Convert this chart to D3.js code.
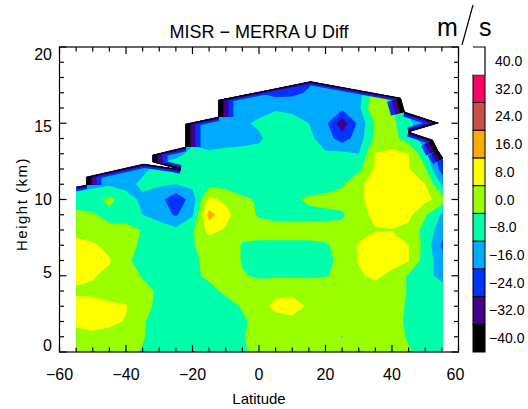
<!DOCTYPE html>
<html><head><meta charset="utf-8">
<script src="https://cdn.jsdelivr.net/npm/d3@7"></script>
<style>body{margin:0;background:#fff}svg{display:block}text{font-family:"Liberation Sans",Arial,sans-serif;fill:#000}</style>
</head><body><svg id="c" width="528" height="409"></svg>
<script>
// ---- data ----
const lats = [-55,-50,-45,-40,-35,-30,-25,-20,-15,-10,-5,0,5,10,15,20,25,30,35,40,45,50,55];
const heights = [0,1,2,3,4,5,6,7,8,9,10,11,12,13,14,15,16,17,18];
// U difference (m/s), one row per height, one value per latitude
const uDiff = [
 [4,4,3,2,-0.5,-3,-4,-4,-3,-3,-1,2,3,3,3,3,2,3,3,2,0.5,-2,-3],
 [5,6,5,3,0.5,-3,-5,-5,-4,-3,-0.5,3,4,4,3,2,-0.2,3,4,2,-0.5,-3,-3],
 [10,11,10,7.5,0.5,-2,-4,-5,-4,-3,-1,2,5,6,5,3,2,3,4,2,-1,-3,-3],
 [9,9.5,9,8.5,2,-1.5,-3,-4,-3,-2,0.5,5,10,11,7,4,3,4,4,3,-1,-3,-4],
 [7.5,7,6,4,2,-1,-3,-2,-1.5,1,3,4,6,6,5,4,4,5,5,3,-0.5,-3,-5],
 [9,8.5,6.5,3,-0.5,-3,-3,-1,1,3,0.5,-1,-1,-1,-1,-0.5,2,7,9.5,6,-1,-6,-10],
 [11,10.5,8.6,1,-2,-3,-4,-1.5,2,4,-0.5,-1.5,-2,-2,-2,-1,1,8.5,11,11,8.5,-4,-12],
 [10,9,6,2,-1,-4,-5,-0.5,3,4,-0.5,-1,-1,-1,-1,-0.5,1.5,9,12,11,8,-3,-17],
 [6,4,2,2,-0.3,-3,-6,-1,11,7,2,2,2,2,2,2,2,4,7.5,7.8,6,-3,-12],
 [2,0.5,-2,-3,-8,-12,-17,-9,19,11,2,-0.5,-1.5,-1.5,-1.5,-1.5,-1,5,10,11,10,1,-9],
 [-4,-3,2,-4,-10,-13,-22,-12,10,6,1,-0.5,-1,-1,1,2,3,7,10,11,11,10,5],
 [-12,-10,-9,-11,-6,-7,-8,-6,-2,-3,-3,-3,-3,-3,-3,-3,-1,7,10,10,10,8,-9],
 [-14,-14,-14,-12,-10,-5,-4,-4,-4,-5,-7,-5,-4,-4,-4,-5,-3,-2,9,10,8.5,1,-20],
 [-14,-14,-14,-14,-12,-12,-10,-6,-7,-6,-6,-6,-5,-4,-5,-7,-6,-8,8.5,10,8,-6,-22],
 [-14,-14,-14,-14,-14,-14,-12,-10,-11,-11,-10,-9,-5,-4,-6,-12,-20,-12,2,3,-4,-12,-24],
 [-14,-14,-14,-14,-14,-14,-14,-13,-12,-10,-9,-7,-4,-5,-8,-14,-29,-14,1,2,-6,-14,-24],
 [-14,-14,-14,-14,-14,-14,-14,-14,-14,-12,-12,-10,-9,-10,-12,-12,-14,-10,8.5,2,-10,-16,-24],
 [-14,-14,-14,-14,-14,-14,-14,-14,-14,-14,-14,-16,-19,-18,-15,-13,-12,-11,4,-8,-14,-16,-24],
 [-14,-14,-14,-14,-14,-14,-14,-14,-14,-14,-14,-18,-20,-20,-18,-14,-14,-14,-10,-14,-14,-16,-24]
];
// top edge of the data coverage (latitude, height km)
const edgeLat =    [-55,-51.9,-51.9,-34.7,-23.6,-32.0,-32.0,-22.1,-22.1,-12.2,-12.2,15.5,42.6,43.8,54.0,45.0,52.2,53.7,55.3];
const edgeHeight = [10.82,10.95,11.48,12.33,11.97,12.46,12.92,13.44,14.95,15.41,16.52,17.74,16.66,15.74,15.02,14.43,13.90,13.25,12.72];
const levels = [-40,-32,-24,-16,-8,0,8,16,24,32,40];
const levelColors = ["#000000","#440088","#0033ff","#00aaff","#00ffaa","#99ff00","#ffff00","#ffaa00","#c8504b","#ff0066","#ffffff"];
const levelLabels = ["−40.0","−32.0","−24.0","−16.0","−8.0","0.0","8.0","16.0","24.0","32.0","40.0"];
const xTicks = [-60,-40,-20,0,20,40,60];
const xTickLabels = ["−60","−40","−20","0","20","40","60"];
const yTicks = [0,5,10,15,20];

// ---- layout ----
const svg = d3.select("#c");
const x = d3.scaleLinear().domain([-60,60]).range([59.5,458.5]);
const y = d3.scaleLinear().domain([0,20]).range([352,47]);
const yLab = d3.scaleLinear().domain([0,20]).range([345,53.5]); // label centres

// clip polygon from edge
const poly = edgeLat.map((d,i)=>[x(d),y(edgeHeight[i])]);
poly.push([x(edgeLat[edgeLat.length-1]),y(0)],[x(edgeLat[0]),y(0)]);
const defs = svg.append("defs");
defs.append("clipPath").attr("id","dc").append("path").attr("d","M"+poly.join("L")+"Z");

// filled contours
const nx = lats.length, ny = heights.length;
const dLat = lats[1]-lats[0], dH = heights[1]-heights[0];
const contours = d3.contours().size([nx,ny]).thresholds(levels)(uDiff.flat());
const proj = d3.geoTransform({point(px,py){
  this.stream.point(x(lats[0]+(px-0.5)*dLat), y(heights[0]+(py-0.5)*dH));
}});
const gp = d3.geoPath(proj);
const gData = svg.append("g").attr("clip-path","url(#dc)");
gData.selectAll("path.c").data(contours).join("path").attr("class","c")
  .attr("d",gp).attr("fill",d=>levelColors[levels.indexOf(d.value)]).attr("stroke","none");

// edge bands (values fall off where data end)
const segs = [];
for(let i=0;i<edgeLat.length-1;i++) segs.push([poly[i],poly[i+1]]);
const base = [1.0,1.0,1.6]; // black, indigo, blue on slanted edges
function bandW(d,k){
  const dx=d[1][0]-d[0][0],dy=d[1][1]-d[0][1];
  const t=Math.pow(Math.abs(dy)/Math.hypot(dx,dy),2);
  let s=0; for(let j=0;j<=k;j++) s+= base[j]+(5-base[j])*t;
  return 2*s;
}
[2,1,0].forEach(k=>{
  gData.selectAll("line.b"+k).data(segs).join("line").attr("class","b"+k)
   .attr("x1",d=>d[0][0]).attr("y1",d=>d[0][1]).attr("x2",d=>d[1][0]).attr("y2",d=>d[1][1])
   .attr("stroke",levelColors[k]).attr("stroke-linecap","butt")
   .attr("stroke-width",d=>bandW(d,k));
});
svg.append("path").attr("d","M"+poly.slice(0,edgeLat.length).join("L")).attr("fill","none").attr("stroke","#000").attr("stroke-width",0.7).attr("stroke-opacity",0.5);

// axes frame
const ax = svg.append("g").attr("stroke","#000").attr("stroke-width",1.2).attr("fill","none");
ax.append("rect").attr("x",x(-60)).attr("y",y(20)).attr("width",x(60)-x(-60)).attr("height",y(0)-y(20));
const xMinor = d3.range(-60,60.1,5), yMinor = d3.range(0,20.1,1);
xMinor.forEach(v=>{
  const L = xTicks.includes(v)?7:4.5;
  ax.append("line").attr("x1",x(v)).attr("x2",x(v)).attr("y1",y(0)).attr("y2",y(0)-L);
  ax.append("line").attr("x1",x(v)).attr("x2",x(v)).attr("y1",y(20)).attr("y2",y(20)+L);
});
yMinor.forEach(v=>{
  const L = yTicks.includes(v)?7:4.5;
  ax.append("line").attr("y1",y(v)).attr("y2",y(v)).attr("x1",x(-60)).attr("x2",x(-60)+L);
  ax.append("line").attr("y1",y(v)).attr("y2",y(v)).attr("x1",x(60)).attr("x2",x(60)-L);
});
svg.selectAll("text.xt").data(xTicks).join("text").attr("class","xt")
  .attr("x",d=>x(d)-(d===60?3:0)).attr("y",380).attr("text-anchor","middle").attr("font-size",16)
  .text((d,i)=>xTickLabels[i]);
svg.selectAll("text.yt").data(yTicks).join("text").attr("class","yt")
  .attr("x",52).attr("y",d=>yLab(d)+6).attr("text-anchor","end").attr("font-size",16).text(d=>d);
svg.append("text").attr("x",x(0)).attr("y",404).attr("text-anchor","middle").attr("font-size",15).text("Latitude");
svg.append("text").attr("transform","translate(27,204) rotate(-90)").attr("text-anchor","middle")
  .attr("font-size",15).attr("letter-spacing",1.5).text("Height  (km)");
svg.append("text").attr("x",x(0)).attr("y",38).attr("text-anchor","middle").attr("font-size",18).text("MISR − MERRA U Diff");

// unit
svg.append("text").attr("x",437).attr("y",36).attr("font-size",25).text("m");
svg.append("line").attr("x1",462).attr("y1",45).attr("x2",473).attr("y2",5).attr("stroke","#000").attr("stroke-width",1.2);
svg.append("text").attr("x",479).attr("y",36).attr("font-size",25).text("s");

// colour bar
const cb = d3.scaleLinear().domain([-40,48]).range([352,47]);
const cbg = svg.append("g");
cbg.selectAll("rect").data(levels).join("rect")
  .attr("x",473).attr("width",12).attr("y",d=>cb(d+8)).attr("height",d=>cb(d)-cb(d+8))
  .attr("fill",(d,i)=>levelColors[i]).attr("stroke",d=>d===40?"none":"#000").attr("stroke-width",1);
cbg.append("path").attr("d",`M473,${cb(48)}H485V${cb(40)}`).attr("fill","none").attr("stroke","#000").attr("stroke-width",1.2);
cbg.selectAll("text").data(levels).join("text")
  .attr("x",d=>d<0?489:495).attr("y",d=>cb(d+4)+5).attr("font-size",14).text((d,i)=>levelLabels[i]);
</script></body></html>
